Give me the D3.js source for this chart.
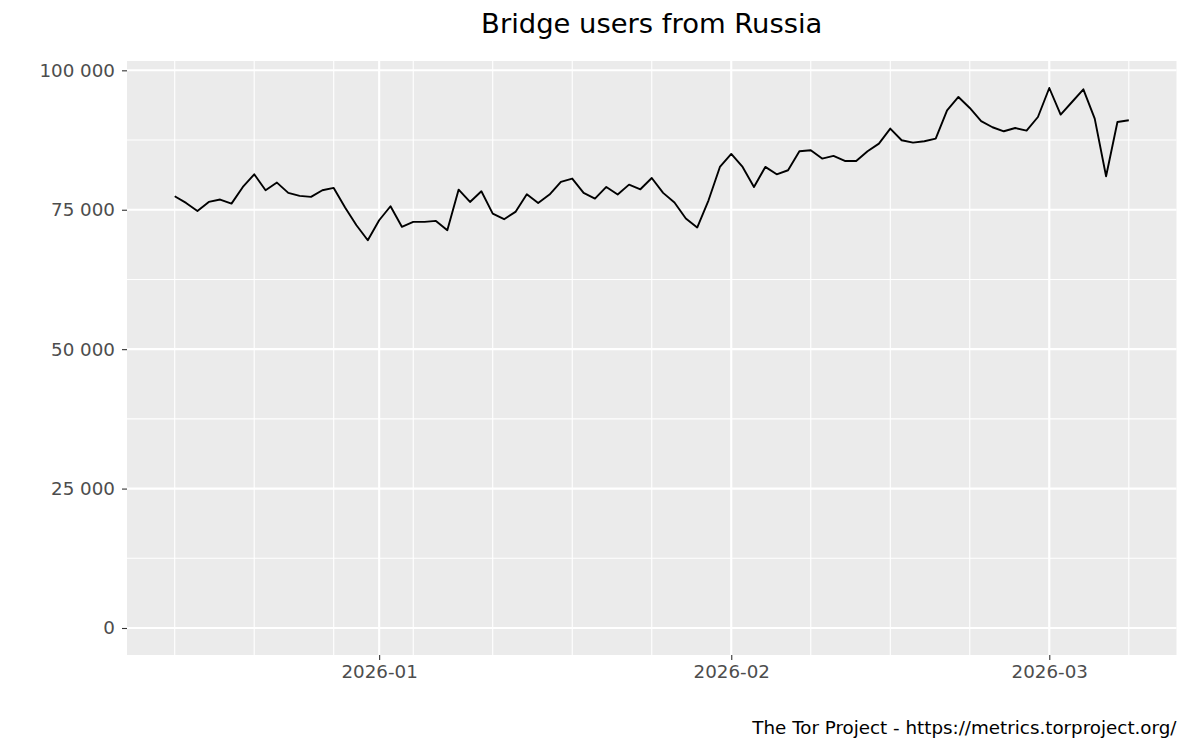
<!DOCTYPE html>
<html>
<head>
<meta charset="utf-8">
<script src="https://cdn.jsdelivr.net/npm/d3@7"></script>
<style>
  body { margin: 0; background: #fff; }
  text { font-family: "DejaVu Sans", sans-serif; }
</style>
</head>
<body>
<script>
// Daily bridge users from Russia, starting at firstDay
var firstDay = "2025-12-14";
var users = [
  77420, 76220, 74790, 76400, 76830, 76100, 79090, 81360, 78490, 79870,
  78020, 77480, 77300, 78490, 78910, 75390, 72220, 69530, 73120, 75630,
  71940, 72820, 72820, 73000, 71330, 78610, 76400, 78310, 74310, 73300,
  74610, 77780, 76220, 77720, 79990, 80590, 78020, 77000, 79090, 77720,
  79510, 78670, 80700, 78020, 76290, 73420, 71810, 76700, 82670, 85010,
  82680, 79090, 82680, 81360, 82080, 85480, 85660, 84170, 84650, 83750,
  83750, 85480, 86860, 89550, 87460, 87040, 87280, 87760, 92830, 95220,
  93250, 90890, 89790, 89070, 89660, 89190, 91630, 96830, 92060, 94320,
  96600, 91340, 81000, 90740, 91040
];
var xTickLabels = ["2026-01", "2026-02", "2026-03"];
var yTicks = [0, 25000, 50000, 75000, 100000];
var titleText = "Bridge users from Russia";
var captionText = "The Tor Project - https://metrics.torproject.org/";

var svgWidth = 1200;
var svgHeight = 750;
var panel = { left: 127, right: 1176.5, top: 61, bottom: 655 };

var svg = d3.select("body")
  .append("svg")
  .attr("width", svgWidth)
  .attr("height", svgHeight);

var parseDay = d3.utcParse("%Y-%m-%d");
var start = parseDay(firstDay);
var data = users.map(function(v, i) {
  return { date: d3.utcDay.offset(start, i), value: v };
});

// ggplot style 5% expansion on both axes
var xExt = d3.extent(data, d => d.date);
var xPad = (xExt[1] - xExt[0]) * 0.05;
var xScale = d3.scaleUtc()
  .domain([new Date(+xExt[0] - xPad), new Date(+xExt[1] + xPad)])
  .range([panel.left, panel.right]);

var yMax = d3.max(data, d => d.value);
var yPad = yMax * 0.05;
var yScale = d3.scaleLinear()
  .domain([-yPad, yMax + yPad])
  .range([panel.bottom, panel.top]);

// panel background
svg.append("rect")
  .attr("x", panel.left)
  .attr("y", panel.top)
  .attr("width", panel.right - panel.left)
  .attr("height", panel.bottom - panel.top)
  .attr("fill", "#EBEBEB");

// minor gridlines
var yMinor = d3.range(0, yTicks.length - 1).map(i => (yTicks[i] + yTicks[i + 1]) / 2);
svg.append("g").selectAll("line")
  .data(yMinor)
  .enter()
  .append("line")
  .attr("x1", panel.left).attr("x2", panel.right)
  .attr("y1", d => yScale(d)).attr("y2", d => yScale(d))
  .attr("stroke", "#fff")
  .attr("stroke-width", 1.1);

var xMinor = d3.utcWeek.range(xExt[0], d3.utcDay.offset(xExt[1], 1));
svg.append("g").selectAll("line")
  .data(xMinor)
  .enter()
  .append("line")
  .attr("x1", d => xScale(d)).attr("x2", d => xScale(d))
  .attr("y1", panel.top).attr("y2", panel.bottom)
  .attr("stroke", "#fff")
  .attr("stroke-width", 1.1);

// major gridlines
var xMajor = xTickLabels.map(s => parseDay(s + "-01"));
svg.append("g").selectAll("line")
  .data(yTicks)
  .enter()
  .append("line")
  .attr("x1", panel.left).attr("x2", panel.right)
  .attr("y1", d => yScale(d)).attr("y2", d => yScale(d))
  .attr("stroke", "#fff")
  .attr("stroke-width", 2.1);

svg.append("g").selectAll("line")
  .data(xMajor)
  .enter()
  .append("line")
  .attr("x1", d => xScale(d)).attr("x2", d => xScale(d))
  .attr("y1", panel.top).attr("y2", panel.bottom)
  .attr("stroke", "#fff")
  .attr("stroke-width", 2.1);

// axes
var fmt = d3.formatLocale({ decimal: ".", thousands: " ", grouping: [3], currency: ["", ""] }).format(",d");

var leftAxis = d3.axisLeft(yScale)
  .tickValues(yTicks)
  .tickFormat(fmt)
  .tickSize(5)
  .tickPadding(7);

var bottomAxis = d3.axisBottom(xScale)
  .tickValues(xMajor)
  .tickFormat((d, i) => xTickLabels[i])
  .tickSize(5)
  .tickPadding(5);

var yAxisG = svg.append("g")
  .attr("transform", `translate(${panel.left},0)`)
  .call(leftAxis);

var xAxisG = svg.append("g")
  .attr("transform", `translate(0,${panel.bottom})`)
  .call(bottomAxis);

[yAxisG, xAxisG].forEach(function(g) {
  g.select(".domain").remove();
  g.selectAll(".tick line").attr("stroke", "#333333").attr("stroke-width", 1.1);
  g.selectAll(".tick text")
    .attr("fill", "#4D4D4D")
    .style("font-size", "18.3px")
    .style("font-family", "'DejaVu Sans', sans-serif");
});

// the line
var line = d3.line()
  .x(d => xScale(d.date))
  .y(d => yScale(d.value));

svg.append("path")
  .datum(data)
  .attr("d", line)
  .attr("fill", "none")
  .attr("stroke", "#000")
  .attr("stroke-width", 1.9)
  .attr("stroke-linejoin", "round");

// title and caption
svg.append("text")
  .attr("x", (panel.left + panel.right) / 2)
  .attr("y", 33)
  .attr("text-anchor", "middle")
  .style("font-size", "27.4px")
  .attr("fill", "#000")
  .text(titleText);

svg.append("text")
  .attr("x", panel.right)
  .attr("y", 734)
  .attr("text-anchor", "end")
  .style("font-size", "18.3px")
  .attr("fill", "#000")
  .text(captionText);
</script>
</body>
</html>
